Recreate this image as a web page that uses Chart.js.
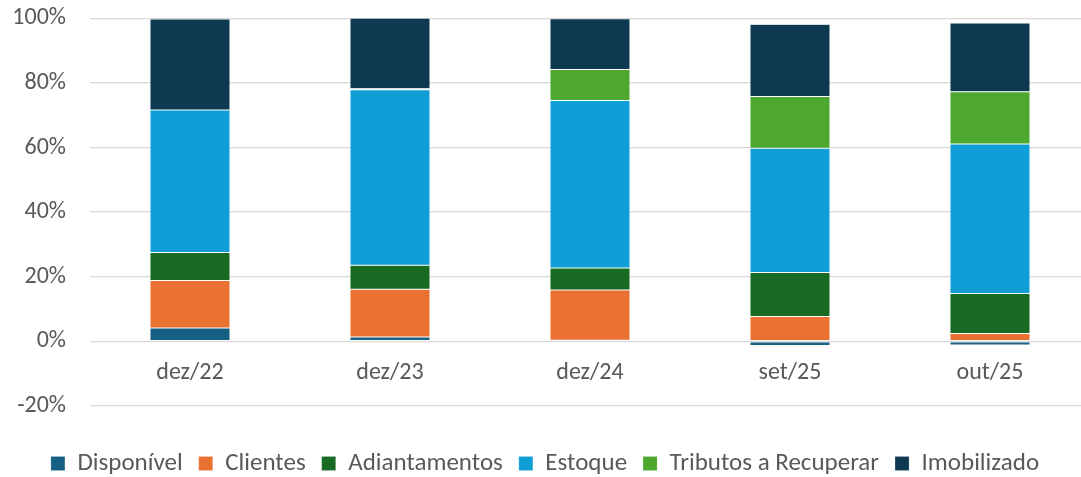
<!DOCTYPE html>
<html>
<head>
<meta charset="utf-8">
<script src="https://cdn.jsdelivr.net/npm/chart.js@4"></script>
<style>
  html, body { margin: 0; padding: 0; background: #fff; overflow: hidden; height: 477px; }
  #wrap { width: 1090px; height: 506px; margin-top: -20px; }
</style>
</head>
<body>
<div id="wrap"><canvas id="composicaoAtivo"></canvas></div>
<script>
// Categorias (períodos)
const periodos = ['dez/22', 'dez/23', 'dez/24', 'set/25', 'out/25'];

// Participação de cada conta no ativo (%)
const disponivel   = [4.1, 1.3, 0.3, -1.3, -1.2];
const clientes     = [14.7, 14.8, 15.6, 7.7, 2.4];
const adiantamentos = [8.7, 7.4, 6.8, 13.6, 12.4];
const estoque      = [44.1, 54.4, 51.9, 38.5, 46.3];
const tributos     = [0.0, 0.3, 9.6, 16.0, 16.2];
const imobilizado  = [28.2, 21.9, 15.7, 22.4, 21.3];

const fonte = "Carlito, 'Liberation Sans Narrow', Lato, sans-serif";

function serie(label, data, cor) {
    return {
        label: label,
        data: data,
        backgroundColor: cor,
        borderColor: 'rgba(255,255,255,0.3)',
        borderWidth: 0.5,
        borderSkipped: false
    };
}

document.addEventListener("DOMContentLoaded", function() {
    const ctx = document.getElementById('composicaoAtivo').getContext('2d');
    new Chart(ctx, {
        type: 'bar',
        data: {
            labels: periodos,
            datasets: [
                serie('Disponível', disponivel, '#156082'),
                serie('Clientes', clientes, '#E97132'),
                serie('Adiantamentos', adiantamentos, '#196B24'),
                serie('Estoque', estoque, '#0F9ED5'),
                serie('Tributos a Recuperar', tributos, '#4EA72E'),
                serie('Imobilizado', imobilizado, '#0E3A51')
            ]
        },
        options: {
            responsive: true,
            maintainAspectRatio: false,
            animation: false,
            layout: { padding: { top: 18, right: 0, bottom: 0, left: 0 } },
            datasets: { bar: { barPercentage: 1, categoryPercentage: 0.4 } },
            plugins: {
                legend: {
                    position: 'bottom',
                    title: {
                        display: true,
                        text: ' ',
                        font: { size: 1 },
                        padding: { top: 28, bottom: 0 }
                    },
                    labels: {
                        boxWidth: 14,
                        boxHeight: 14,
                        padding: 16,
                        color: '#595959',
                        font: { family: fonte, size: 25 }
                    }
                },
                tooltip: { enabled: true }
            },
            scales: {
                x: {
                    stacked: true,
                    position: { y: 0 },
                    afterFit: function(scale) { scale.height = 0; },
                    grid: { display: false, drawTicks: false },
                    border: { display: false },
                    ticks: {
                        color: '#595959',
                        padding: 17,
                        font: { family: fonte, size: 24 }
                    }
                },
                y: {
                    stacked: true,
                    min: -20,
                    max: 100,
                    afterFit: function(scale) { scale.width = 90; },
                    grid: { color: '#d9d9d9', lineWidth: 1.3, drawTicks: false },
                    border: { display: false },
                    ticks: {
                        stepSize: 20,
                        color: '#595959',
                        padding: 24,
                        font: { family: fonte, size: 24 },
                        callback: function(value) { return value + '%'; }
                    }
                }
            }
        }
    });
});
</script>
</body>
</html>
